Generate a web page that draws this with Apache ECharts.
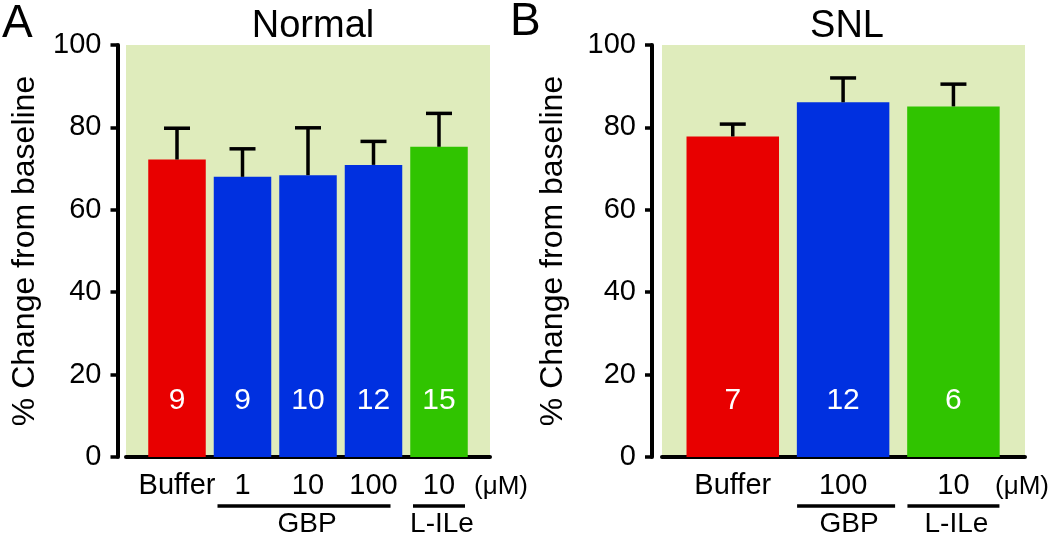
<!DOCTYPE html>
<html><head><meta charset="utf-8">
<script src="https://cdn.jsdelivr.net/npm/echarts@6/dist/echarts.min.js"></script>
<style>html,body{margin:0;padding:0;background:#fff}#c{width:1050px;height:533px}</style>
</head><body><div id="c"></div>
<script>
// ---- Data: Panel A (Normal) ----
const catsA = ['Buffer', '1', '10', '100', '10'];
const treatA = ['Buffer', 'GBP', 'GBP', 'GBP', 'L-ILe'];
const meanA = [72.2, 68.0, 68.4, 70.9, 75.3];
const semA = [7.6, 6.8, 11.5, 5.7, 8.1];
const nA = [9, 9, 10, 12, 15];
const groupsA = [['GBP', 1, 3], ['L-ILe', 4, 4]];
// ---- Data: Panel B (SNL) ----
const catsB = ['Buffer', '100', '10'];
const treatB = ['Buffer', 'GBP', 'L-ILe'];
const meanB = [77.8, 86.1, 85.1];
const semB = [3.0, 5.9, 5.4];
const nB = [7, 12, 6];
const groupsB = [['GBP', 1, 1], ['L-ILe', 2, 2]];
// ---- Axis ----
const yMin = 0, yMax = 100, yStep = 20;
const yTitle = '% Change from baseline';
const unitLabel = '(μM)';

const FONT = '"Liberation Sans", Arial, Helvetica, sans-serif';
const colorOf = { 'Buffer': '#e80000', 'GBP': '#0030e0', 'L-ILe': '#30c400' };
const BG = '#dfecbc';
const TOP = 45, H = 412;

const chart = echarts.init(document.getElementById('c'));

function panel(idx, frame, bars, cats, treat, mean, sem, n, groups, barW, capW, nameGap, pads) {
  const gF = idx * 2, gB = idx * 2 + 1;
  const grids = [
    { left: frame.left, top: TOP, width: frame.width, height: H, show: true, backgroundColor: BG, borderWidth: 0 },
    { left: bars.left, top: TOP, width: bars.width, height: H, show: false }
  ];
  const xAxes = [
    { gridIndex: gF, type: 'category', data: cats, offset: 8,
      axisLine: { show: true, lineStyle: { color: '#000', width: 4 } },
      axisTick: { show: false }, axisLabel: { show: false }, splitLine: { show: false } },
    { gridIndex: gB, type: 'category', data: cats,
      axisLine: { show: false }, axisTick: { show: false },
      axisLabel: { show: true, margin: 14, fontSize: 29, color: '#000', fontFamily: FONT, interval: 0 } }
  ];
  const yAxes = [
    { gridIndex: gF, type: 'value', min: yMin, max: yMax, interval: yStep, offset: frame.left - frame.axisX,
      name: yTitle, nameLocation: 'middle', nameGap: nameGap, nameRotate: 90,
      nameTextStyle: { fontSize: 32, color: '#000', fontFamily: FONT },
      axisLine: { show: true, lineStyle: { color: '#000', width: 4 } },
      axisTick: { show: true, length: 7, lineStyle: { color: '#000', width: 3.5 } },
      axisLabel: { margin: 16, fontSize: 29, color: '#000', fontFamily: FONT },
      splitLine: { show: false } },
    { gridIndex: gB, type: 'value', min: yMin, max: yMax, interval: yStep, show: false }
  ];
  const xi = idx * 2 + 1, yi = idx * 2 + 1;
  const series = [
    { type: 'bar', xAxisIndex: xi, yAxisIndex: yi, barWidth: barW, silent: true,
      data: mean.map((v, i) => ({ value: v, itemStyle: { color: colorOf[treat[i]] } })) },
    { type: 'custom', xAxisIndex: xi, yAxisIndex: yi, silent: true, z: 3,
      data: mean.map((v, i) => [i, v, sem[i], n[i]]),
      renderItem: function (params, api) {
        const x = api.value(0), m = api.value(1), s = api.value(2);
        const p0 = api.coord([x, m]), p1 = api.coord([x, m + s]);
        const pl = api.coord([x, 14]);
        const cw = capW / 2;
        return { type: 'group', children: [
          { type: 'line', shape: { x1: p0[0], y1: p0[1], x2: p1[0], y2: p1[1] }, style: { stroke: '#000', lineWidth: 3.5 } },
          { type: 'line', shape: { x1: p1[0] - cw, y1: p1[1], x2: p1[0] + cw, y2: p1[1] }, style: { stroke: '#000', lineWidth: 3.5 } },
          { type: 'text', x: pl[0], y: pl[1] + 1, style: { text: String(api.value(3)), fill: '#fff', font: '30px ' + FONT, align: 'center', verticalAlign: 'middle' } }
        ] };
      } },
    { type: 'custom', xAxisIndex: xi, yAxisIndex: yi, silent: true, clip: false,
      data: groups.map((g, k) => [g[1], g[2], k]),
      renderItem: function (params, api) {
        const a = api.value(0), b = api.value(1), k = api.value(2);
        const pa = api.coord([a, 0]), pb = api.coord([b, 0]);
        const x1 = pa[0] - pads[k][0], x2 = pb[0] + pads[k][1];
        const y = pa[1];
        return { type: 'group', children: [
          { type: 'line', shape: { x1: x1, y1: y + 49, x2: x2, y2: y + 49 }, style: { stroke: '#000', lineWidth: 3.5 } },
          { type: 'text', x: (x1 + x2) / 2 + 3, y: y + 67, style: { text: groups[k][0], fill: '#000', font: '28px ' + FONT, align: 'center', verticalAlign: 'middle' } }
        ] };
      } }
  ];
  return { grids, xAxes, yAxes, series };
}

const pA = panel(0, { left: 126, width: 364, axisX: 117.5 }, { left: 144.25, width: 327.5 },
  catsA, treatA, meanA, semA, nA, groupsA, 57.5, 26, 76, [[25, 17], [26, 26]]);
const pB = panel(1, { left: 662, width: 363, axisX: 652 }, { left: 677.6, width: 331 },
  catsB, treatB, meanB, semB, nB, groupsB, 92.5, 26, 83, [[46, 52], [46, 46]]);

chart.setOption({
  animation: false,
  backgroundColor: '#fff',
  title: [
    { text: 'A', left: -3, top: -4, textStyle: { fontSize: 46, fontWeight: 'normal', color: '#000', fontFamily: FONT } },
    { text: 'B', left: 505, top: -6, textStyle: { fontSize: 46, fontWeight: 'normal', color: '#000', fontFamily: FONT } },
    { text: 'Normal', left: 308, top: 3, textAlign: 'center', textStyle: { fontSize: 38, fontWeight: 'normal', color: '#000', fontFamily: FONT } },
    { text: 'SNL', left: 842, top: 3, textAlign: 'center', textStyle: { fontSize: 38, fontWeight: 'normal', color: '#000', fontFamily: FONT } }
  ],
  graphic: [
    { type: 'text', left: 474, top: 474, style: { text: unitLabel, fill: '#000', font: '26px ' + FONT } },
    { type: 'text', left: 995, top: 474, style: { text: unitLabel, fill: '#000', font: '26px ' + FONT } }
  ],
  grid: pA.grids.concat(pB.grids),
  xAxis: pA.xAxes.concat(pB.xAxes),
  yAxis: pA.yAxes.concat(pB.yAxes),
  series: pA.series.concat(pB.series)
});
</script>
</body></html>
